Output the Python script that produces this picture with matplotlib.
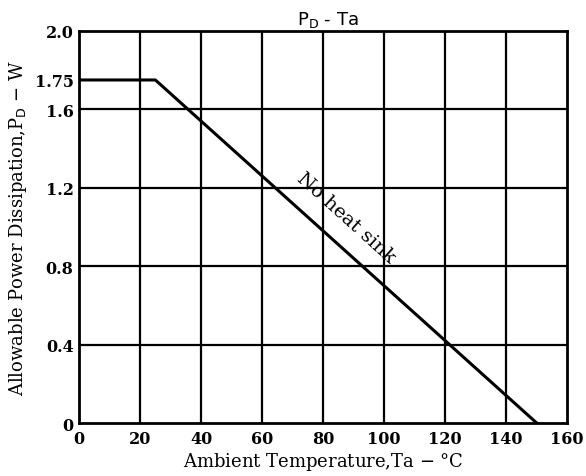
import matplotlib.pyplot as plt

# derating curve
ta = [0, 25, 150]
pd_w = [1.75, 1.75, 0]

x_ticks = [0, 20, 40, 60, 80, 100, 120, 140, 160]
y_ticks = [0, 0.4, 0.8, 1.2, 1.6, 1.75, 2.0]
y_tick_labels = ['0', '0.4', '0.8', '1.2', '1.6', '1.75', '2.0']
y_grid = [0.4, 0.8, 1.2, 1.6]

plt.rcParams['font.family'] = ['DejaVu Serif']

fig = plt.figure(figsize=(5.86, 4.77), dpi=100)
ax = fig.add_axes([0.135, 0.111, 0.833, 0.822])

ax.set_xlim(0, 160)
ax.set_ylim(0, 2.0)

# grid
for x in x_ticks[1:-1]:
    ax.axvline(x, color='black', lw=1.6, zorder=1)
for y in y_grid:
    ax.axhline(y, color='black', lw=1.6, zorder=1)

ax.plot(ta, pd_w, color='black', lw=2.2, zorder=3)

for s in ax.spines.values():
    s.set_linewidth(2)

ax.set_xticks(x_ticks)
ax.set_xticklabels([str(v) for v in x_ticks], fontsize=11.5, fontweight='bold')
ax.set_yticks(y_ticks)
ax.set_yticklabels(y_tick_labels, fontsize=11.5, fontweight='bold')
ax.tick_params(axis='x', length=0, pad=5)
ax.tick_params(axis='y', length=0, pad=4)

ax.set_xlabel('Ambient Temperature,Ta $-$ °C', fontsize=13, labelpad=2)
ax.set_ylabel('Allowable Power Dissipation,P$_\\mathrm{D}$ $-$ W', fontsize=13, labelpad=4)

ax.text(0.51, 1.005, 'P$_\\mathsf{D}$ - Ta', transform=ax.transAxes, ha='center', va='bottom',
        fontsize=13, family='DejaVu Sans')

ax.text(87.6, 1.05, 'No heat sink', rotation=-42, ha='center', va='center',
        fontsize=14, rotation_mode='anchor')

fig.savefig('out.png', dpi=100)
